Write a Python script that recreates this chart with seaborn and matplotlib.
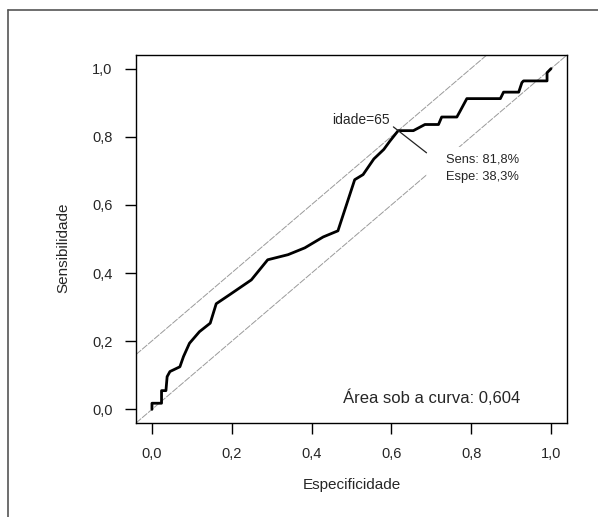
import matplotlib
matplotlib.use("Agg")
import matplotlib.pyplot as plt
import seaborn as sns
from matplotlib.lines import Line2D
from matplotlib.patches import Rectangle

# ROC curve (x = 1 - especificidade, y = sensibilidade)
fpr = [0.000, 0.000, 0.024, 0.024, 0.035, 0.038, 0.045, 0.070, 0.079, 0.094,
       0.119, 0.146, 0.161, 0.194, 0.249, 0.290, 0.341, 0.383, 0.429, 0.466,
       0.508, 0.529, 0.556, 0.581, 0.596, 0.617, 0.655, 0.684, 0.718, 0.726,
       0.764, 0.772, 0.789, 0.873, 0.881, 0.919, 0.927, 0.931, 0.990, 0.990,
       1.000]
tpr = [0.000, 0.018, 0.018, 0.055, 0.055, 0.096, 0.111, 0.125, 0.155, 0.194,
       0.228, 0.253, 0.310, 0.336, 0.380, 0.439, 0.454, 0.474, 0.506, 0.524,
       0.674, 0.689, 0.735, 0.763, 0.787, 0.818, 0.818, 0.836, 0.836, 0.858,
       0.858, 0.875, 0.912, 0.912, 0.931, 0.931, 0.959, 0.964, 0.964, 0.988,
       1.000]

# optimal cut point
opt_sens = 0.818
opt_spec = 0.383
cut_label = "idade=65"
auc_label = "Área sob a curva: 0,604"

ticks = [0.0, 0.2, 0.4, 0.6, 0.8, 1.0]
tick_labels = ["0,0", "0,2", "0,4", "0,6", "0,8", "1,0"]

sns.set_style("white")
plt.rcParams["font.family"] = ["Liberation Sans", "DejaVu Sans"]

fig = plt.figure(figsize=(5.98, 5.17), dpi=100)
ax = fig.add_axes([136 / 598, 94 / 517, 431 / 598, 368 / 517])

# reference lines: diagonal and tangent through the optimal point
lim = [-0.04, 1.04]
opt_x = 1 - opt_spec
grey = "#9a9a9a"
dash = (0, (7, 1.2))
ax.plot(lim, lim, color=grey, lw=0.7, ls=dash, zorder=1)
icpt = opt_sens - opt_x
ax.plot(lim, [lim[0] + icpt, lim[1] + icpt], color=grey, lw=0.7,
        ls=dash, zorder=1)

sns.lineplot(x=fpr, y=tpr, sort=False, estimator=None, color="black",
             lw=2.0, ax=ax, zorder=3)

# pointer at the cut point
ax.plot([opt_x - 0.012, opt_x + 0.071], [opt_sens + 0.011, opt_sens - 0.065],
        color="#222222", lw=0.9, zorder=4)
ax.text(opt_x - 0.022, opt_sens + 0.03, cut_label, ha="right", va="center",
        fontsize=10, zorder=5)
ax.add_patch(Rectangle((0.69, 0.683), 0.26, 0.088, facecolor="white",
                       edgecolor="none", zorder=2))
ax.text(0.736, 0.733, "Sens: 81,8%", ha="left", va="center", fontsize=9.3,
        zorder=5)
ax.text(0.736, 0.681, "Espe: 38,3%", ha="left", va="center", fontsize=9.3,
        zorder=5)

ax.text(0.70, 0.033, auc_label, ha="center", va="center", fontsize=12)

ax.set_xlim(lim)
ax.set_ylim(lim)
ax.set_xticks(ticks)
ax.set_xticklabels(tick_labels)
ax.set_yticks(ticks)
ax.set_yticklabels(tick_labels)
ax.tick_params(axis="both", direction="out", length=8, width=1,
               color="black", labelsize=10.5)
ax.tick_params(axis="x", pad=9.5)
ax.tick_params(axis="y", pad=9)
ax.tick_params(left=True, bottom=True)
for s in ax.spines.values():
    s.set_color("black")
    s.set_linewidth(1.0)

ax.set_xlabel("Especificidade", fontsize=11)
ax.set_ylabel("Sensibilidade", fontsize=11)
ax.xaxis.set_label_coords(0.5, -0.15)
ax.yaxis.set_label_coords(-0.153, 0.475)

# outer frame (left and top edges visible)
fig.add_artist(Line2D([8 / 598, 8 / 598], [0, 1 - 10 / 517], color="#555555",
                      lw=1.2, transform=fig.transFigure))
fig.add_artist(Line2D([8 / 598, 1], [1 - 10 / 517, 1 - 10 / 517],
                      color="#555555", lw=1.2, transform=fig.transFigure))

fig.savefig("out.png", dpi=100)
